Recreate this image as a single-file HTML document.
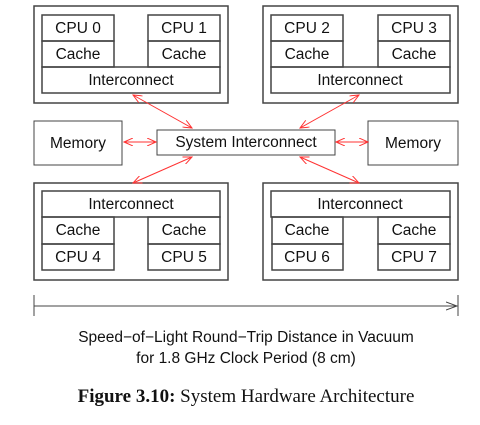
<!DOCTYPE html>
<html><head><style>
body{margin:0;background:#fff;width:480px;height:420px;overflow:hidden}
svg text{font-family:"Liberation Sans",sans-serif;font-size:15.5px;fill:#111}
</style></head><body>
<svg width="480" height="420" viewBox="0 0 480 420">
<defs>
<marker id="a" markerWidth="10" markerHeight="8" refX="9" refY="4" orient="auto-start-reverse" markerUnits="userSpaceOnUse">
<path d="M0,0 L9,4 L0,8" fill="none" stroke="#f33" stroke-width="1"/></marker>
<marker id="b" markerWidth="12" markerHeight="10" refX="11" refY="5" orient="auto" markerUnits="userSpaceOnUse">
<path d="M0,1 L11,5 L0,9" fill="none" stroke="#444" stroke-width="1"/></marker>
</defs>
<g fill="none" stroke="#444" stroke-width="1.5">
<rect x="34" y="6" width="194" height="97"/>
<rect x="263" y="6" width="195" height="97"/>
<rect x="34" y="183" width="194" height="97"/>
<rect x="263" y="183" width="195" height="97"/>
<rect x="42" y="15" width="72" height="26"/><rect x="42" y="41" width="72" height="26"/>
<rect x="148" y="15" width="72" height="26"/><rect x="148" y="41" width="72" height="26"/>
<rect x="42" y="67" width="178" height="26"/>
<rect x="271" y="15" width="72" height="26"/><rect x="271" y="41" width="72" height="26"/>
<rect x="378" y="15" width="72" height="26"/><rect x="378" y="41" width="72" height="26"/>
<rect x="271" y="67" width="179" height="26"/>
<rect x="42" y="191" width="178" height="26"/>
<rect x="42" y="217" width="72" height="27"/><rect x="42" y="244" width="72" height="26"/>
<rect x="148" y="217" width="72" height="27"/><rect x="148" y="244" width="72" height="26"/>
<rect x="271" y="191" width="179" height="26"/>
<rect x="272" y="217" width="71" height="27"/><rect x="272" y="244" width="71" height="26"/>
<rect x="378" y="217" width="72" height="27"/><rect x="378" y="244" width="72" height="26"/>
<rect x="34" y="121" width="88" height="44" stroke-width="1"/>
<rect x="368" y="121" width="90" height="44" stroke-width="1"/>
<rect x="157" y="130" width="178" height="25" stroke-width="1"/>
</g>
<g stroke="#f33" stroke-width="1" marker-start="url(#a)" marker-end="url(#a)">
<line x1="133" y1="95" x2="192" y2="128"/>
<line x1="359" y1="95" x2="300" y2="128"/>
<line x1="124" y1="142" x2="156" y2="142"/>
<line x1="368" y1="142" x2="336" y2="142"/>
<line x1="192" y1="157" x2="133" y2="183"/>
<line x1="300" y1="157" x2="359" y2="183"/>
</g>
<g stroke="#444" stroke-width="1">
<line x1="34" y1="306" x2="457" y2="306" marker-end="url(#b)"/>
<line x1="34" y1="295" x2="34" y2="316"/>
<line x1="458" y1="295" x2="458" y2="316"/>
</g>
<g text-anchor="middle">
<text x="78" y="33">CPU 0</text><text x="184" y="33">CPU 1</text>
<text x="307" y="33">CPU 2</text><text x="414" y="33">CPU 3</text>
<text x="78" y="59">Cache</text><text x="184" y="59">Cache</text>
<text x="307" y="59">Cache</text><text x="414" y="59">Cache</text>
<text x="131" y="85">Interconnect</text><text x="360" y="85">Interconnect</text>
<text x="78" y="148">Memory</text><text x="413" y="148">Memory</text>
<text x="246" y="147">System Interconnect</text>
<text x="131" y="209">Interconnect</text><text x="360" y="209">Interconnect</text>
<text x="78" y="235">Cache</text><text x="184" y="235">Cache</text>
<text x="307" y="235">Cache</text><text x="414" y="235">Cache</text>
<text x="78" y="262">CPU 4</text><text x="184" y="262">CPU 5</text>
<text x="307" y="262">CPU 6</text><text x="414" y="262">CPU 7</text>
<text x="246" y="342">Speed−of−Light Round−Trip Distance in Vacuum</text>
<text x="246" y="363">for 1.8 GHz Clock Period (8 cm)</text>
<text x="246" y="402" style="font-family:'Liberation Serif',serif;font-size:19px"><tspan font-weight="bold">Figure 3.10:</tspan> System Hardware Architecture</text>
</g>
</svg>
</body></html>
